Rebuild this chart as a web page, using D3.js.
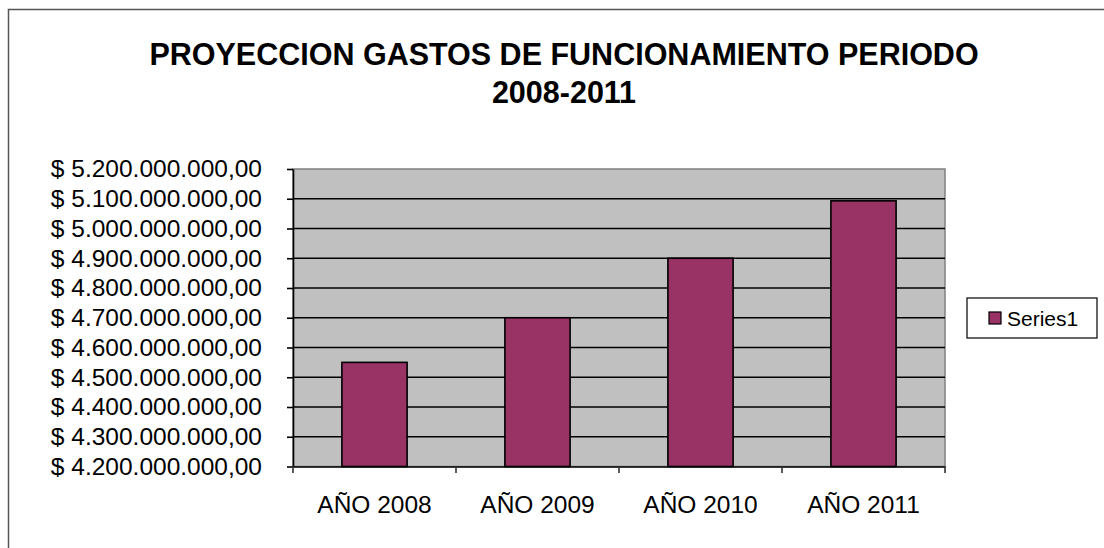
<!DOCTYPE html>
<html>
<head>
<meta charset="utf-8">
<script src="https://cdn.jsdelivr.net/npm/d3@7"></script>
<style>
  body { margin: 0; background: #fff; }
  text { font-family: "Liberation Sans", Arial, sans-serif; fill: #000; }
</style>
</head>
<body>
<svg id="chart" width="1104" height="548"></svg>
<script>
var categories = ["AÑO 2008", "AÑO 2009", "AÑO 2010", "AÑO 2011"];
var values = [4550000000, 4700000000, 4900000000, 5093000000];
var yTicks = [4200000000, 4300000000, 4400000000, 4500000000, 4600000000,
              4700000000, 4800000000, 4900000000, 5000000000, 5100000000, 5200000000];
var titleLines = ["PROYECCION GASTOS DE FUNCIONAMIENTO PERIODO", "2008-2011"];
var seriesName = "Series1";

var svg = d3.select("#chart");

var plotLeft = 293, plotRight = 945, plotTop = 169, plotBottom = 466.5;

// outer chart border (runs off right/bottom of the picture)
svg.append("rect")
    .attr("x", 8.5).attr("y", 9.5)
    .attr("width", 1200).attr("height", 1000)
    .attr("fill", "none")
    .attr("stroke", "#555")
    .attr("stroke-width", 1.5);

svg.selectAll("text.title")
  .data(titleLines)
  .enter().append("text")
    .attr("class", "title")
    .attr("x", 564)
    .attr("y", (d, i) => 65 + i * 38)
    .attr("text-anchor", "middle")
    .attr("font-size", "30.5px")
    .attr("font-weight", "bold")
    .text(d => d);

var x = d3.scaleBand()
    .domain(categories)
    .range([plotLeft, plotRight]);

var y = d3.scaleLinear()
    .domain([4200000000, 5200000000])
    .range([plotBottom, plotTop]);

var locale = d3.formatLocale({decimal: ",", thousands: ".", grouping: [3], currency: ["$ ", ""]});
var fmt = locale.format("$,.2f");

// plot area
svg.append("rect")
    .attr("x", plotLeft).attr("y", plotTop)
    .attr("width", plotRight - plotLeft).attr("height", plotBottom - plotTop)
    .attr("fill", "#c0c0c0")
    .attr("stroke", "#808080")
    .attr("stroke-width", 1.5);

// gridlines
svg.selectAll("line.grid")
  .data(yTicks.slice(1, -1))
  .enter().append("line")
    .attr("class", "grid")
    .attr("x1", plotLeft).attr("x2", plotRight)
    .attr("y1", d => y(d)).attr("y2", d => y(d))
    .attr("stroke", "#000")
    .attr("stroke-width", 1.6);

// bars
var bw = x.bandwidth() / 2.5;
svg.selectAll("rect.bar")
  .data(values)
  .enter().append("rect")
    .attr("class", "bar")
    .attr("x", (d, i) => x(categories[i]) + (x.bandwidth() - bw) / 2)
    .attr("y", d => y(d))
    .attr("width", bw)
    .attr("height", d => plotBottom - y(d))
    .attr("fill", "#993366")
    .attr("stroke", "#000")
    .attr("stroke-width", 1.6);

// y axis
var yAxis = d3.axisLeft(y)
    .tickValues(yTicks)
    .tickFormat(fmt)
    .tickSizeInner(6)
    .tickSizeOuter(0)
    .tickPadding(25);

var gy = svg.append("g")
    .attr("transform", "translate(" + plotLeft + ",0)")
    .call(yAxis);
gy.select(".domain").attr("stroke", "#000").attr("stroke-width", 1.6);
gy.selectAll(".tick line").attr("stroke", "#000").attr("stroke-width", 1.6);
gy.selectAll(".tick text")
    .attr("font-size", "24.5px")
    .attr("font-family", "Liberation Sans, Arial, sans-serif")
    .attr("fill", "#000");

// x axis
var xAxis = d3.axisBottom(x)
    .tickSize(0)
    .tickPadding(46);

var gx = svg.append("g")
    .attr("transform", "translate(0," + plotBottom + ")")
    .call(xAxis);
gx.select(".domain").attr("stroke", "#000").attr("stroke-width", 1.6);
gx.selectAll(".tick text")
    .attr("font-size", "24.5px")
    .attr("font-family", "Liberation Sans, Arial, sans-serif")
    .attr("fill", "#000")
    .attr("dy", "0");

// category separator ticks
var edges = categories.map(c => x(c)).concat([x.range()[1]]);
svg.selectAll("line.xtick")
  .data(edges)
  .enter().append("line")
    .attr("class", "xtick")
    .attr("x1", d => d).attr("x2", d => d)
    .attr("y1", plotBottom).attr("y2", plotBottom + 6.5)
    .attr("stroke", "#333")
    .attr("stroke-width", 1.6);

// legend
var lg = svg.append("g").attr("transform", "translate(967,298)");
lg.append("rect")
    .attr("width", 130).attr("height", 40)
    .attr("fill", "#fff")
    .attr("stroke", "#000")
    .attr("stroke-width", 1.2);
lg.append("rect")
    .attr("x", 22).attr("y", 14)
    .attr("width", 12).attr("height", 12)
    .attr("fill", "#993366")
    .attr("stroke", "#000")
    .attr("stroke-width", 1.2);
lg.append("text")
    .attr("x", 40).attr("y", 28)
    .attr("font-size", "21px")
    .text(seriesName);
</script>
</body>
</html>
